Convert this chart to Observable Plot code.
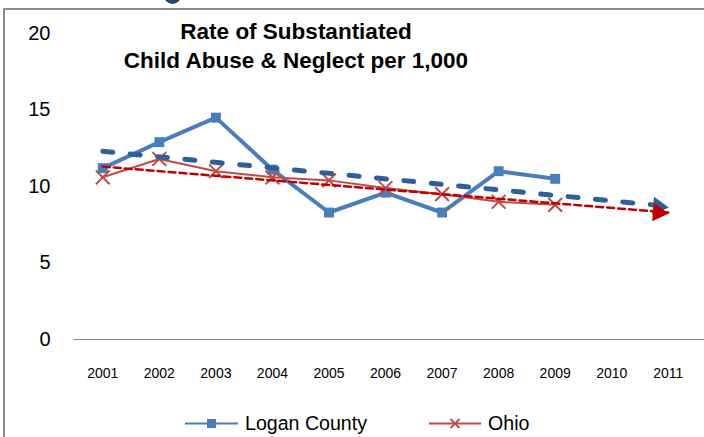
<!DOCTYPE html>
<html>
<head>
<meta charset="utf-8">
<script src="https://cdn.jsdelivr.net/npm/d3@7"></script>
<script src="https://cdn.jsdelivr.net/npm/@observablehq/plot@0.6"></script>
<style>
  html, body { margin: 0; padding: 0; background: #fff; }
  #wrap { position: relative; width: 704px; height: 437px; overflow: hidden; background: #fff; font-family: "Liberation Sans", Arial, sans-serif; }
  #chart { position: absolute; left: 0; top: 0; }
  #title { position: absolute; left: 96px; top: 18px; width: 400px; text-align: center; font-weight: bold; font-size: 22.5px; line-height: 28.5px; color: #000; }
  #border { position: absolute; left: 3px; top: 8px; right: -10px; bottom: -10px; border-top: 2px solid #8c8c8c; border-left: 2px solid #8c8c8c; pointer-events: none; }
  #blob { position: absolute; left: 164px; top: -13px; width: 17px; height: 17px; border-radius: 50%; background: #2b4470; }
  #legend { position: absolute; left: 0; top: 404px; width: 704px; height: 38px; }
  .item { position: absolute; top: 0; height: 38px; display: flex; align-items: center; font-size: 19.6px; color: #000; }
  .item svg { display: block; margin-right: 7px; }
</style>
</head>
<body>
<div id="wrap">
  <div id="chart"></div>
  <div id="title">Rate of Substantiated<br>Child Abuse &amp; Neglect per 1,000</div>
  <div id="legend"></div>
  <div id="border"></div>
  <div id="blob"></div>
</div>
<script>
// ---- data ----
const years = [2001, 2002, 2003, 2004, 2005, 2006, 2007, 2008, 2009, 2010, 2011];
const yTicks = [0, 5, 10, 15, 20];
const dataYears = [2001, 2002, 2003, 2004, 2005, 2006, 2007, 2008, 2009];
const loganValues = [11.2, 12.9, 14.5, 11.1, 8.3, 9.6, 8.3, 11.0, 10.5];
const ohioValues = [10.6, 11.8, 11.0, 10.6, 10.4, 9.9, 9.5, 9.0, 8.8];
const trendYears = [2001, 2011];
const loganTrendValues = [12.3, 8.7];
const ohioTrendValues = [11.3, 8.3];
const seriesNames = ["Logan County", "Ohio"];

const blue = "#4a7ebb";
const red = "#be4b48";
const blueTrend = "#2f5f98";
const redTrend = "#c00000";

const logan = dataYears.map((y, i) => ({year: y, value: loganValues[i]}));
const ohio = dataYears.map((y, i) => ({year: y, value: ohioValues[i]}));
const loganTrend = trendYears.map((y, i) => ({year: y, value: loganTrendValues[i]}));
const ohioTrend = trendYears.map((y, i) => ({year: y, value: ohioTrendValues[i]}));

const plot = Plot.plot({
  width: 704,
  height: 390,
  marginTop: 33,
  marginBottom: 51,
  marginLeft: 74,
  marginRight: 0,
  style: {background: "transparent", fontFamily: "'Liberation Sans', Arial, sans-serif", color: "#000"},
  x: {domain: [2000.5, 2011.64], axis: null, label: null},
  y: {domain: [0, 20], axis: null, label: null},
  marks: [
    Plot.axisX({ticks: years, tickFormat: d => String(d), tickSize: 0, tickPadding: 29, fontSize: 14, fill: "#000", label: null}),
    Plot.axisY({ticks: yTicks, tickSize: 0, tickPadding: 24, fontSize: 20, fill: "#000", label: null}),
    Plot.ruleY([0], {stroke: "#868686", strokeWidth: 1.2}),
    Plot.line(logan, {x: "year", y: "value", stroke: blue, strokeWidth: 4}),
    Plot.dot(logan, {x: "year", y: "value", symbol: "square", r: 5.6, fill: blue, stroke: "none"}),
    Plot.line(ohio, {x: "year", y: "value", stroke: red, strokeWidth: 2}),
    Plot.dot(ohio, {x: "year", y: "value", symbol: "times", r: 6.3, stroke: red, strokeWidth: 2}),
    Plot.line(loganTrend, {x: "year", y: "value", stroke: blueTrend, strokeWidth: 5, strokeDasharray: "10,17.5", strokeLinecap: "round"}),
    Plot.dot(loganTrend.slice(1), {x: "year", y: "value", symbol: "triangle", r: 6.8, rotate: 96, fill: blueTrend, stroke: "none", dx: -10}),
    Plot.line(ohioTrend, {x: "year", y: "value", stroke: redTrend, strokeWidth: 2.5, strokeDasharray: "7,4"}),
    Plot.dot(ohioTrend.slice(1), {x: "year", y: "value", symbol: "triangle", r: 6.8, rotate: 95, fill: redTrend, stroke: "none", dx: -10})
  ]
});
document.getElementById("chart").appendChild(plot);

// ---- legend ----
const legend = document.getElementById("legend");
const items = [
  {name: seriesNames[0], color: blue, marker: "square", left: 185, w: 53},
  {name: seriesNames[1], color: red, marker: "times", left: 429, w: 52}
];
items.forEach(it => {
  const div = document.createElement("div");
  div.className = "item";
  div.style.left = it.left + "px";
  const ns = "http://www.w3.org/2000/svg";
  const svg = document.createElementNS(ns, "svg");
  svg.setAttribute("width", it.w);
  svg.setAttribute("height", 16);
  const line = document.createElementNS(ns, "line");
  line.setAttribute("x1", 0); line.setAttribute("x2", it.w);
  line.setAttribute("y1", 8.5); line.setAttribute("y2", 8.5);
  line.setAttribute("stroke", it.color); line.setAttribute("stroke-width", 2);
  svg.appendChild(line);
  if (it.marker === "square") {
    const r = document.createElementNS(ns, "rect");
    r.setAttribute("x", it.w / 2 - 4.5); r.setAttribute("y", 4);
    r.setAttribute("width", 9); r.setAttribute("height", 9);
    r.setAttribute("fill", it.color);
    svg.appendChild(r);
  } else {
    const p = document.createElementNS(ns, "path");
    const c = it.w / 2;
    p.setAttribute("d", `M${c-4.5},4L${c+4.5},13M${c+4.5},4L${c-4.5},13`);
    p.setAttribute("stroke", it.color); p.setAttribute("stroke-width", 1.8);
    svg.appendChild(p);
  }
  div.appendChild(svg);
  const span = document.createElement("span");
  span.textContent = it.name;
  div.appendChild(span);
  legend.appendChild(div);
});
</script>
</body>
</html>
